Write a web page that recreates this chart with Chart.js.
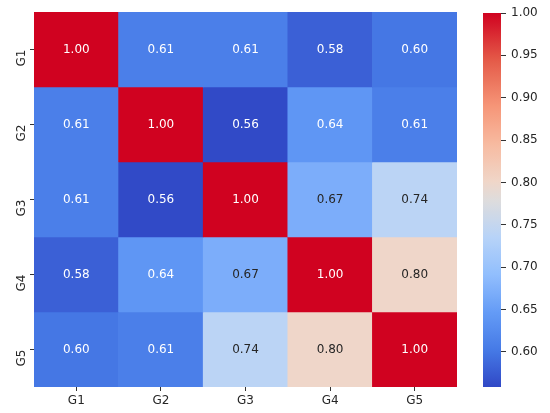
<!DOCTYPE html>
<html>
<head>
<meta charset="utf-8">
<script src="https://cdn.jsdelivr.net/npm/chart.js@4.4.1/dist/chart.umd.min.js"></script>
<style>
  html, body { margin: 0; padding: 0; background: #fff; }
  #wrap { position: relative; width: 550px; height: 413px; }
  #heat { position: absolute; left: 0; top: 0; }
  #cbar { position: absolute; left: 470px; top: 0; }
</style>
</head>
<body>
<div id="wrap">
  <canvas id="heat" width="470" height="413"></canvas>
  <canvas id="cbar" width="80" height="413"></canvas>
</div>
<script>
(function () {
    "use strict";

    // --- Data -----------------------------------------------------------
    const groups = ["G1", "G2", "G3", "G4", "G5"];
    const rowG1 = [1.00, 0.61, 0.61, 0.58, 0.60];
    const rowG2 = [0.61, 1.00, 0.56, 0.64, 0.61];
    const rowG3 = [0.61, 0.56, 1.00, 0.67, 0.74];
    const rowG4 = [0.58, 0.64, 0.67, 1.00, 0.80];
    const rowG5 = [0.60, 0.61, 0.74, 0.80, 1.00];
    const matrix = [rowG1, rowG2, rowG3, rowG4, rowG5];
    const colorbarTicks = [0.60, 0.65, 0.70, 0.75, 0.80, 0.85, 0.90, 0.95, 1.00];
    const vmin = 0.5586;
    const vmax = 1.0;

    // --- coolwarm-ish colormap (position, rgb) --------------------------
    const cwStops = [
        [0.00, [48, 72, 198]],
        [0.10, [70, 122, 230]],
        [0.20, [100, 155, 246]],
        [0.30, [145, 190, 253]],
        [0.40, [183, 211, 248]],
        [0.50, [222, 220, 220]],
        [0.55, [240, 214, 200]],
        [0.65, [247, 186, 160]],
        [0.75, [246, 150, 120]],
        [0.875, [228, 90, 72]],
        [1.00, [208, 2, 32]]
    ];

    function coolwarm(t) {
        t = Math.max(0, Math.min(1, t));
        let i = 0;
        while (i < cwStops.length - 2 && t > cwStops[i + 1][0]) i++;
        const [t0, a] = cwStops[i];
        const [t1, b] = cwStops[i + 1];
        const f = (t - t0) / (t1 - t0);
        return [0, 1, 2].map(k => Math.round(a[k] + (b[k] - a[k]) * f));
    }
    function rgb(c) { return "rgb(" + c.join(",") + ")"; }
    function colorFor(v) { return coolwarm((v - vmin) / (vmax - vmin)); }

    function luminance(c) {
        const l = c.map(x => {
            x = x / 255;
            return x <= 0.03928 ? x / 12.92 : Math.pow((x + 0.055) / 1.055, 2.4);
        });
        return 0.2126 * l[0] + 0.7152 * l[1] + 0.0722 * l[2];
    }

    Chart.defaults.font.family = "'DejaVu Sans', sans-serif";
    Chart.defaults.font.size = 12;
    Chart.defaults.color = "#262626";

    // --- Heatmap --------------------------------------------------------
    // each row is a dataset of floating bars spanning one unit of the y scale
    const n = groups.length;
    const datasets = matrix.map((row, r) => ({
        label: groups[r],
        data: row.map(() => [n - 1 - r, n - r]),
        values: row,
        backgroundColor: row.map(v => rgb(colorFor(v))),
        borderWidth: 0,
        barPercentage: 1,
        categoryPercentage: 1,
        grouped: false
    }));

    const cellLabels = {
        id: "cellLabels",
        afterDatasetsDraw(chart) {
            const ctx = chart.ctx;
            ctx.save();
            ctx.font = "12px 'DejaVu Sans', sans-serif";
            ctx.textAlign = "center";
            ctx.textBaseline = "middle";
            chart.data.datasets.forEach((ds, di) => {
                chart.getDatasetMeta(di).data.forEach((el, i) => {
                    const v = ds.values[i];
                    ctx.fillStyle = luminance(colorFor(v)) > 0.408 ? "#262626" : "#ffffff";
                    ctx.fillText(v.toFixed(2), el.x, (el.y + el.base) / 2);
                });
            });
            ctx.restore();
        }
    };

    new Chart(document.getElementById("heat"), {
        type: "bar",
        data: { labels: groups, datasets: datasets },
        options: {
            responsive: false,
            animation: false,
            layout: { padding: { top: 12, right: 13, left: 0, bottom: 0 } },
            scales: {
                x: {
                    grid: { display: true, drawOnChartArea: false, offset: false, tickLength: 4, color: "#333" },
                    border: { display: false },
                    ticks: { padding: 3, maxRotation: 0 },
                    afterFit: s => { s.height = 26; }
                },
                y: {
                    min: 0,
                    max: n,
                    afterBuildTicks: s => {
                        s.ticks = groups.map((g, i) => ({ value: i + 0.5 }));
                    },
                    ticks: {
                        minRotation: 90,
                        maxRotation: 90,
                        padding: 8,
                        callback: v => groups[n - 1 - Math.floor(v)]
                    },
                    grid: { display: true, drawOnChartArea: false, tickLength: 4, color: "#333" },
                    border: { display: false },
                    afterFit: s => {
                        s.width = 34;
                        s.paddingTop = 0;
                        s.paddingBottom = 0;
                    }
                }
            },
            plugins: {
                legend: { display: false },
                tooltip: { enabled: false }
            }
        },
        plugins: [cellLabels]
    });

    // --- Colorbar -------------------------------------------------------
    function gradientFill(context) {
        const chart = context.chart;
        const area = chart.chartArea;
        if (!area) return null;
        const ys = chart.scales.y;
        const g = chart.ctx.createLinearGradient(0, ys.getPixelForValue(vmin), 0, ys.getPixelForValue(vmax));
        for (let i = 0; i <= 60; i++) {
            g.addColorStop(i / 60, rgb(coolwarm(i / 60)));
        }
        return g;
    }

    new Chart(document.getElementById("cbar"), {
        type: "bar",
        data: {
            labels: [""],
            datasets: [{
                data: [[vmin, vmax]],
                backgroundColor: gradientFill,
                borderWidth: 0,
                barPercentage: 1,
                categoryPercentage: 1
            }]
        },
        options: {
            responsive: false,
            animation: false,
            layout: { padding: { top: 13, right: 0, left: 13, bottom: 26 } },
            scales: {
                x: { display: false },
                y: {
                    position: "right",
                    min: vmin,
                    max: vmax,
                    afterBuildTicks: s => {
                        s.ticks = colorbarTicks.map(v => ({ value: v }));
                    },
                    ticks: { padding: 5, callback: v => v.toFixed(2) },
                    grid: { display: true, drawOnChartArea: false, tickLength: 5, color: "#333" },
                    border: { display: false },
                    afterFit: s => {
                        s.width = 49;
                        s.paddingTop = 0;
                        s.paddingBottom = 0;
                    }
                }
            },
            plugins: {
                legend: { display: false },
                tooltip: { enabled: false }
            }
        }
    });
})();
</script>
</body>
</html>
